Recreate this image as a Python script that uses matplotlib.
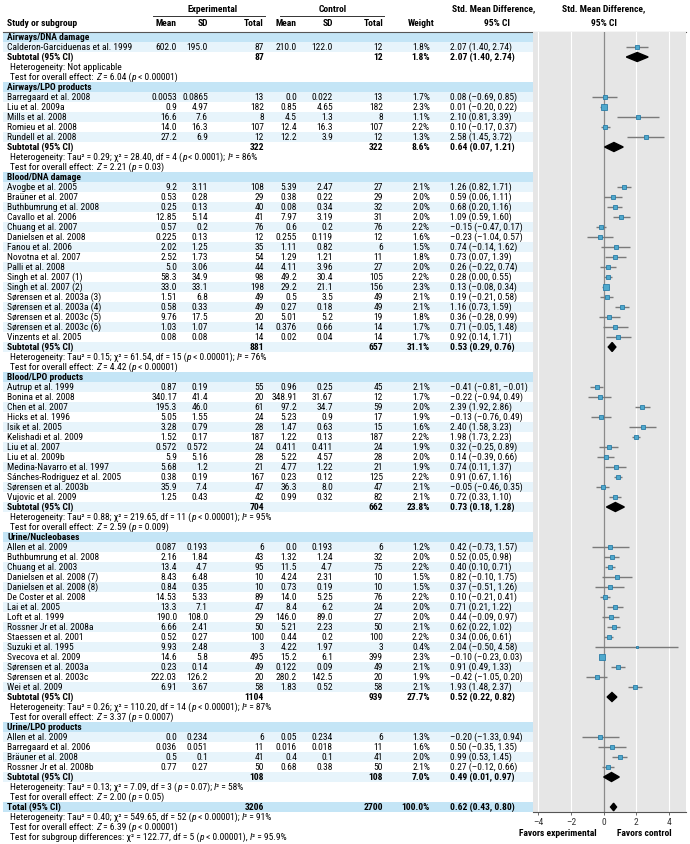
import matplotlib
matplotlib.use('Agg')
import matplotlib.pyplot as plt
from matplotlib import font_manager as fm
from matplotlib.patches import Polygon
import numpy as np

# ---------------- DATA ----------------
group_names = ["Airways/DNA damage", "Airways/LPO products", "Blood/DNA damage",
               "Blood/LPO products", "Urine/Nucleobases", "Urine/LPO products"]

study = [
    "Calderon-Garciduenas et al. 1999",
    "Barregaard et al. 2008", "Liu et al. 2009a", "Mills et al. 2008", "Romieu et al. 2008", "Rundell et al. 2008",
    "Avogbe et al. 2005", "Braüner et al. 2007", "Buthbumrung et al. 2008", "Cavallo et al. 2006",
    "Chuang et al. 2007", "Danielsen et al. 2008", "Fanou et al. 2006", "Novotna et al. 2007",
    "Palli et al. 2008", "Singh et al. 2007 (1)", "Singh et al. 2007 (2)", "Sørensen et al. 2003a (3)",
    "Sørensen et al. 2003a (4)", "Sørensen et al. 2003c (5)", "Sørensen et al. 2003c (6)", "Vinzents et al. 2005",
    "Autrup et al. 1999", "Bonina et al. 2008", "Chen et al. 2007", "Hicks et al. 1996", "Isik et al. 2005",
    "Kelishadi et al. 2009", "Liu et al. 2007", "Liu et al. 2009b", "Medina-Navarro et al. 1997",
    "Sánches-Rodriguez et al. 2005", "Sørensen et al. 2003b", "Vujovic et al. 2009",
    "Allen et al. 2009", "Buthbumrung et al. 2008", "Chuang et al. 2003", "Danielsen et al. 2008 (7)",
    "Danielsen et al. 2008 (8)", "De Coster et al. 2008", "Lai et al. 2005", "Loft et al. 1999",
    "Rossner Jr et al. 2008a", "Staessen et al. 2001", "Suzuki et al. 1995", "Svecova et al. 2009",
    "Sørensen et al. 2003a", "Sørensen et al. 2003c", "Wei et al. 2009",
    "Allen et al. 2009", "Barregaard et al. 2006", "Bräuner et al. 2008", "Rossner Jr et al. 2008b",
]
group_id = [0] + [1] * 5 + [2] * 16 + [3] * 12 + [4] * 15 + [5] * 4

exp_mean = ["602.0",
            "0.0053", "0.9", "16.6", "14.0", "27.2",
            "9.2", "0.53", "0.25", "12.85", "0.57", "0.225", "2.02", "2.52", "5.0", "58.3", "33.0",
            "1.51", "0.58", "9.76", "1.03", "0.08",
            "0.87", "340.17", "195.3", "5.05", "3.28", "1.52", "0.572", "5.9", "5.68", "0.38", "35.9", "1.25",
            "0.087", "2.16", "13.4", "8.43", "0.84", "14.53", "13.3", "190.0", "6.66", "0.52", "9.93",
            "14.6", "0.23", "222.03", "6.91",
            "0.0", "0.036", "0.5", "0.77"]
exp_sd = ["195.0",
          "0.0865", "4.97", "7.6", "16.3", "6.9",
          "3.11", "0.28", "0.13", "5.14", "0.2", "0.13", "1.25", "1.73", "3.06", "34.9", "33.1",
          "6.8", "0.33", "17.5", "1.07", "0.08",
          "0.19", "41.4", "46.0", "1.55", "0.79", "0.17", "0.572", "5.16", "1.2", "0.19", "7.4", "0.43",
          "0.193", "1.84", "4.7", "6.48", "0.35", "5.33", "7.1", "108.0", "2.41", "0.27", "2.48",
          "5.8", "0.14", "126.2", "3.67",
          "0.234", "0.051", "0.1", "0.27"]
exp_n = [87,
         13, 182, 8, 107, 12,
         108, 29, 40, 41, 76, 12, 35, 54, 44, 98, 198, 49, 49, 20, 14, 14,
         55, 20, 61, 24, 28, 187, 24, 28, 21, 167, 47, 42,
         6, 43, 95, 10, 10, 89, 47, 29, 50, 100, 3, 495, 49, 20, 58,
         6, 11, 41, 50]
ctl_mean = ["210.0",
            "0.0", "0.85", "4.5", "12.4", "12.2",
            "5.39", "0.38", "0.08", "7.97", "0.6", "0.255", "1.11", "1.29", "4.11", "49.2", "29.2",
            "0.5", "0.27", "5.01", "0.376", "0.02",
            "0.96", "348.91", "97.2", "5.23", "1.47", "1.22", "0.411", "5.22", "4.77", "0.23", "36.3", "0.99",
            "0.0", "1.32", "11.5", "4.24", "0.73", "14.0", "8.4", "146.0", "5.21", "0.44", "4.22",
            "15.2", "0.122", "280.2", "1.83",
            "0.05", "0.016", "0.4", "0.68"]
ctl_sd = ["122.0",
          "0.022", "4.65", "1.3", "16.3", "3.9",
          "2.47", "0.22", "0.34", "3.19", "0.2", "0.119", "0.82", "1.21", "3.96", "30.4", "21.1",
          "3.5", "0.18", "5.2", "0.66", "0.04",
          "0.25", "31.67", "34.7", "0.9", "0.63", "0.13", "0.411", "4.57", "1.22", "0.12", "8.0", "0.32",
          "0.193", "1.24", "4.7", "2.31", "0.19", "5.25", "6.2", "89.0", "2.23", "0.2", "1.97",
          "6.1", "0.09", "142.5", "0.52",
          "0.234", "0.018", "0.1", "0.38"]
ctl_n = [12,
         13, 182, 8, 107, 12,
         27, 29, 32, 31, 76, 12, 6, 11, 27, 105, 156, 49, 49, 19, 14, 14,
         45, 12, 59, 17, 15, 187, 24, 28, 21, 125, 47, 82,
         6, 32, 75, 10, 10, 76, 24, 27, 50, 100, 3, 399, 49, 20, 58,
         6, 11, 41, 50]
weight = [1.8,
          1.7, 2.3, 1.1, 2.2, 1.3,
          2.1, 2.0, 2.0, 2.0, 2.2, 1.6, 1.5, 1.8, 2.0, 2.2, 2.3, 2.1, 2.1, 1.8, 1.7, 1.7,
          2.1, 1.7, 2.0, 1.9, 1.6, 2.2, 1.9, 2.0, 1.9, 2.2, 2.1, 2.1,
          1.2, 2.0, 2.2, 1.5, 1.5, 2.2, 2.0, 2.0, 2.1, 2.2, 0.4, 2.3, 2.1, 1.9, 2.1,
          1.3, 1.6, 2.0, 2.1]
smd = [2.07,
       0.08, 0.01, 2.10, 0.10, 2.58,
       1.26, 0.59, 0.68, 1.09, -0.15, -0.23, 0.74, 0.73, 0.26, 0.28, 0.13, 0.19, 1.16, 0.36, 0.71, 0.92,
       -0.41, -0.22, 2.39, -0.13, 2.40, 1.98, 0.32, 0.14, 0.74, 0.91, -0.05, 0.72,
       0.42, 0.52, 0.40, 0.82, 0.37, 0.10, 0.71, 0.44, 0.62, 0.34, 2.04, -0.10, 0.91, -0.42, 1.93,
       -0.20, 0.50, 0.99, 0.27]
ci_lo = [1.40,
         -0.69, -0.20, 0.81, -0.17, 1.45,
         0.82, 0.06, 0.20, 0.59, -0.47, -1.04, -0.14, 0.07, -0.22, 0.00, -0.08, -0.21, 0.73, -0.28, -0.05, 0.14,
         -0.81, -0.94, 1.92, -0.76, 1.58, 1.73, -0.25, -0.39, 0.11, 0.67, -0.46, 0.33,
         -0.73, 0.05, 0.10, -0.10, -0.51, -0.21, 0.21, -0.09, 0.22, 0.06, -0.50, -0.23, 0.49, -1.05, 1.48,
         -1.33, -0.35, 0.53, -0.12]
ci_hi = [2.74,
         0.85, 0.22, 3.39, 0.37, 3.72,
         1.71, 1.11, 1.16, 1.60, 0.17, 0.57, 1.62, 1.39, 0.74, 0.55, 0.34, 0.58, 1.59, 0.99, 1.48, 1.71,
         -0.01, 0.49, 2.86, 0.49, 3.23, 2.23, 0.89, 0.66, 1.37, 1.16, 0.35, 1.10,
         1.57, 0.98, 0.71, 1.75, 1.26, 0.41, 1.22, 0.97, 1.02, 0.61, 4.58, 0.03, 1.33, 0.20, 2.37,
         0.94, 1.35, 1.45, 0.66]

sub_exp_n = [87, 322, 881, 704, 1104, 108]
sub_ctl_n = [12, 322, 657, 662, 939, 108]
sub_weight = [1.8, 8.6, 31.1, 23.8, 27.7, 7.0]
sub_smd = [2.07, 0.64, 0.53, 0.73, 0.52, 0.49]
sub_lo = [1.40, 0.07, 0.29, 0.18, 0.22, 0.01]
sub_hi = [2.74, 1.21, 0.76, 1.28, 0.82, 0.97]
# parts between $...$ are set in italics
sub_het = ["Heterogeneity: Not applicable",
           "Heterogeneity: Tau² = 0.29; χ² = 28.40, df = 4 ($p$ < 0.0001); $I$² = 86%",
           "Heterogeneity: Tau² = 0.15; χ² = 61.54, df = 15 ($p$ < 0.00001); $I$² = 76%",
           "Heterogeneity: Tau² = 0.88; χ² = 219.65, df = 11 ($p$ < 0.00001); $I$² = 95%",
           "Heterogeneity: Tau² = 0.26; χ² = 110.20, df = 14 ($p$ < 0.00001); $I$² = 87%",
           "Heterogeneity: Tau² = 0.13; χ² = 7.09, df = 3 ($p$ = 0.07); $I$² = 58%"]
sub_test = ["Test for overall effect: $Z$ = 6.04 ($p$ < 0.00001)",
            "Test for overall effect: $Z$ = 2.21 ($p$ = 0.03)",
            "Test for overall effect: $Z$ = 4.42 ($p$ < 0.00001)",
            "Test for overall effect: $Z$ = 2.59 ($p$ = 0.009)",
            "Test for overall effect: $Z$ = 3.37 ($p$ = 0.0007)",
            "Test for overall effect: $Z$ = 2.00 ($p$ = 0.05)"]

total_exp_n, total_ctl_n, total_weight = 3206, 2700, 100.0
total_smd, total_lo, total_hi = 0.62, 0.43, 0.80
total_notes = ["Heterogeneity: Tau² = 0.40; χ² = 549.65, df = 52 ($p$ < 0.00001); $I$² = 91%",
               "Test for overall effect: $Z$ = 6.39 ($p$ < 0.00001)",
               "Test for subgroup differences: χ² = 122.77, df = 5 ($p$ < 0.00001), $I$² = 95.9%"]

x_ticks = [-4, -2, 0, 2, 4]
x_tick_labels = ["–4", "–2", "0", "2", "4"]

# ---------------- FONT CHOICE ----------------
_entries = fm.fontManager.ttflist


def _is_cond(st):
    if isinstance(st, str):
        return 'condensed' in st or 'narrow' in st
    try:
        return float(st) < 500
    except Exception:
        return False


_names = {f.name for f in _entries}
FAMILY, STRETCH = 'Liberation Sans', 'normal'
if 'Liberation Sans Narrow' in _names:
    FAMILY, STRETCH = 'Liberation Sans Narrow', 'normal'
elif 'Roboto Condensed' in _names:
    FAMILY, STRETCH = 'Roboto Condensed', 'normal'
elif any(f.name == 'DejaVu Sans' and _is_cond(f.stretch) for f in _entries):
    FAMILY, STRETCH = 'DejaVu Sans', 'condensed'
elif any(f.name == 'Roboto' and _is_cond(f.stretch) for f in _entries):
    FAMILY, STRETCH = 'Roboto', 'condensed'

plt.rcParams['font.family'] = [FAMILY, 'DejaVu Sans']
plt.rcParams['font.stretch'] = STRETCH

# ---------------- LAYOUT ----------------
W, H = 690, 844
C_HEAD = '#c4e5f6'
C_STRIPE = '#e7f4fb'
C_BG = '#e6e6e6'
C_MARK = '#4fa9cd'
C_MARKE = '#2a7ca6'
C_LINE = '#7a7a7a'

TOP = 32
ROW = 10
PLOT_L, PLOT_R = 533, 686
ZERO_PX, PX_PER = 603.5, 16.3
N_PLOT_ROWS = 78


def fmt(v):
    return f"{v:.2f}".replace('-', '–')


def ci_text(e, lo, hi):
    return f"{fmt(e)} ({fmt(lo)}, {fmt(hi)})"


fig = plt.figure(figsize=(W / 100, H / 100), dpi=100)
fig.patch.set_facecolor('white')
axt = fig.add_axes([0, 0, 1, 1])
axt.set_xlim(0, W)
axt.set_ylim(H, 0)
axt.axis('off')

_r = fig.canvas.get_renderer()


def _w(s, size=10, style='normal', weight='normal'):
    t = axt.text(0, 0, s, fontsize=size, fontstyle=style, fontweight=weight)
    w = t.get_window_extent(_r).width
    t.remove()
    return w


CI_X = 450
FS = min(10 * 126 / _w("Calderon-Garciduenas et al. 1999"),
         10 * (532 - CI_X) / _w("–0.41 (–0.81, –0.01)"),
         6.8)


def adv(s, style):
    # advance width including leading/trailing spaces
    bar = _w('|', FS, style)
    return _w('|' + s + '|', FS, style) - 2 * bar


def rich(x, y, s):
    parts = s.split('$')
    cx = x
    for j, part in enumerate(parts):
        if not part:
            continue
        style = 'italic' if j % 2 else 'normal'
        axt.text(cx, y, part, fontsize=FS, fontstyle=style, ha='left', va='center')
        cx += adv(part, style)


rows = []
for g, gname in enumerate(group_names):
    rows.append(('head', g))
    idx = [i for i, gi in enumerate(group_id) if gi == g]
    for k, i in enumerate(idx):
        rows.append(('study', (i, k)))
    rows.append(('sub', (g, len(idx))))
    rows.append(('het', g))
    rows.append(('test', g))
rows.append(('total', None))
for t in total_notes:
    rows.append(('note', t))

ax = fig.add_axes([PLOT_L / W, 1 - (TOP + N_PLOT_ROWS * ROW) / H,
                   (PLOT_R - PLOT_L) / W, N_PLOT_ROWS * ROW / H])
ax.set_facecolor(C_BG)
ax.set_xlim((PLOT_L - ZERO_PX) / PX_PER, (PLOT_R - ZERO_PX) / PX_PER)
ax.set_ylim(N_PLOT_ROWS + 0.5, 0.5)
for sp in ['top', 'right', 'left']:
    ax.spines[sp].set_visible(False)
ax.spines['bottom'].set_color('#555555')
ax.spines['bottom'].set_linewidth(0.8)
ax.set_yticks([])
ax.set_xticks(x_ticks)
ax.set_xticklabels(x_tick_labels, fontsize=FS, color='#333333')
ax.tick_params(axis='x', length=2.5, width=0.6, color='#555555', pad=1.5)
for xt in x_ticks:
    if xt == 0:
        ax.axvline(0, color='#8a8a8a', lw=0.9, zorder=1)
    else:
        ax.axvline(xt, color='white', lw=0.8, zorder=0.5)

col_right = {'em': 177, 'esd': 208, 'en': 264, 'cm': 297, 'csd': 333, 'cn': 383, 'w': 430}

# header
axt.text(213, 9, "Experimental", fontsize=FS, fontweight='bold', ha='center', va='center')
axt.text(333, 9, "Control", fontsize=FS, fontweight='bold', ha='center', va='center')
axt.plot([153, 265], [15.5, 15.5], color='#333333', lw=0.7)
axt.plot([280, 384], [15.5, 15.5], color='#333333', lw=0.7)
axt.text(494, 9, "Std. Mean Difference,", fontsize=FS, fontweight='bold', ha='center', va='center')
axt.text(497, 23, "95% CI", fontsize=FS, fontweight='bold', ha='center', va='center')
axt.text(604, 9, "Std. Mean Difference,", fontsize=FS, fontweight='bold', ha='center', va='center')
axt.text(604, 23, "95% CI", fontsize=FS, fontweight='bold', ha='center', va='center')
axt.text(7, 23, "Study or subgroup", fontsize=FS, fontweight='bold', ha='left', va='center')
for key, lab in [('em', 'Mean'), ('esd', 'SD'), ('en', 'Total'), ('cm', 'Mean'), ('csd', 'SD'), ('cn', 'Total')]:
    axt.text(col_right[key], 23, lab, fontsize=FS, fontweight='bold', ha='right', va='center')
axt.text(421, 23, "Weight", fontsize=FS, fontweight='bold', ha='center', va='center')
axt.plot([3, PLOT_R], [TOP, TOP], color='#555555', lw=0.8)

for r, (kind, p) in enumerate(rows):
    yc = TOP + r * ROW + ROW / 2
    rnum = r + 1
    if kind in ('head', 'total'):
        axt.barh(yc, PLOT_L - 3, left=3, height=ROW, color=C_HEAD, lw=0, zorder=0)
    if kind == 'head':
        axt.text(7, yc, group_names[p], fontsize=FS, fontweight='bold', ha='left', va='center')
    elif kind == 'study':
        i, k = p
        if k % 2 == 0:
            axt.barh(yc, PLOT_L - 3, left=3, height=ROW, color=C_STRIPE, lw=0, zorder=0)
        axt.text(7, yc, study[i], fontsize=FS, ha='left', va='center')
        vals = {'em': exp_mean[i], 'esd': exp_sd[i], 'en': str(exp_n[i]),
                'cm': ctl_mean[i], 'csd': ctl_sd[i], 'cn': str(ctl_n[i]),
                'w': f"{weight[i]:.1f}%"}
        for key, v in vals.items():
            axt.text(col_right[key], yc, v, fontsize=FS, ha='right', va='center')
        axt.text(CI_X, yc, ci_text(smd[i], ci_lo[i], ci_hi[i]), fontsize=FS, ha='left', va='center')
        ax.plot([ci_lo[i], ci_hi[i]], [rnum, rnum], color=C_LINE, lw=1.0, zorder=2,
                solid_capstyle='butt')
        ax.plot([smd[i]], [rnum], marker='s', ms=2.4 * np.sqrt(weight[i]), mfc=C_MARK,
                mec=C_MARKE, mew=0.6, zorder=3)
    elif kind == 'sub':
        g, n = p
        if n % 2 == 0:
            axt.barh(yc, PLOT_L - 3, left=3, height=ROW, color=C_STRIPE, lw=0, zorder=0)
        axt.text(7, yc, "Subtotal (95% CI)", fontsize=FS, fontweight='bold', ha='left', va='center')
        axt.text(col_right['en'], yc, str(sub_exp_n[g]), fontsize=FS, fontweight='bold', ha='right', va='center')
        axt.text(col_right['cn'], yc, str(sub_ctl_n[g]), fontsize=FS, fontweight='bold', ha='right', va='center')
        axt.text(col_right['w'], yc, f"{sub_weight[g]:.1f}%", fontsize=FS, fontweight='bold', ha='right', va='center')
        axt.text(CI_X, yc, ci_text(sub_smd[g], sub_lo[g], sub_hi[g]), fontsize=FS, fontweight='bold',
                 ha='left', va='center')
        hh = 0.45
        ax.add_patch(Polygon([[sub_lo[g], rnum], [sub_smd[g], rnum - hh], [sub_hi[g], rnum],
                              [sub_smd[g], rnum + hh]], closed=True, color='black', zorder=3))
    elif kind == 'het':
        rich(10, yc, sub_het[p])
    elif kind == 'test':
        rich(10, yc, sub_test[p])
    elif kind == 'total':
        axt.text(7, yc, "Total (95% CI)", fontsize=FS, fontweight='bold', ha='left', va='center')
        axt.text(col_right['en'], yc, str(total_exp_n), fontsize=FS, fontweight='bold', ha='right', va='center')
        axt.text(col_right['cn'], yc, str(total_ctl_n), fontsize=FS, fontweight='bold', ha='right', va='center')
        axt.text(col_right['w'], yc, f"{total_weight:.1f}%", fontsize=FS, fontweight='bold', ha='right', va='center')
        axt.text(CI_X, yc, ci_text(total_smd, total_lo, total_hi), fontsize=FS, fontweight='bold',
                 ha='left', va='center')
        hh = 0.38
        ax.add_patch(Polygon([[total_lo, rnum], [total_smd, rnum - hh], [total_hi, rnum],
                              [total_smd, rnum + hh]], closed=True, color='black', zorder=3))
    elif kind == 'note':
        rich(10, yc, p)

axt.text(597, 833, "Favors experimental", fontsize=FS, fontweight='bold', ha='right', va='center')
axt.text(617, 833, "Favors control", fontsize=FS, fontweight='bold', ha='left', va='center')

fig.savefig('out.png', dpi=100)
